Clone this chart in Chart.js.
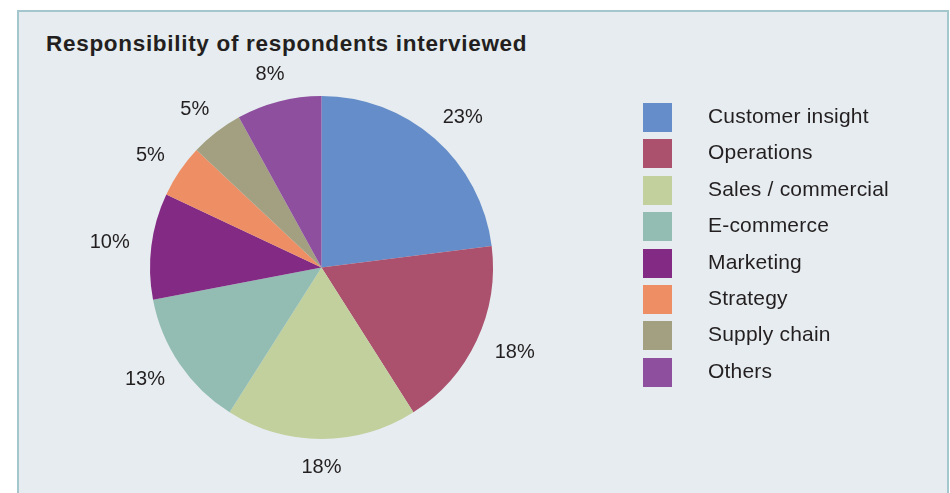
<!DOCTYPE html>
<html>
<head>
<meta charset="utf-8">
<script src="https://cdn.jsdelivr.net/npm/chart.js@4"></script>
<style>
  html, body { margin: 0; padding: 0; background: #ffffff; }
  body { width: 950px; height: 493px; position: relative; overflow: hidden;
         font-family: "Liberation Sans", Arial, sans-serif; color: #231f20; }
  #panel { position: absolute; left: 17px; top: 10px; width: 928px; height: 490px;
           background: #e6ecef; border: 2px solid #a3c7cc; }
  #title { position: absolute; left: 46px; top: 31px; font-size: 22.5px; font-weight: bold;
           letter-spacing: 0.7px; color: #231f20; white-space: nowrap; }
  #chart { position: absolute; left: 0; top: 0; }
  #legend { position: absolute; left: 643px; top: 103px; }
  .row { position: relative; height: 36.4px; }
  .box { position: absolute; left: 0; top: 0; width: 29px; height: 29px; }
  .txt { position: absolute; left: 65px; top: 1px; font-size: 21px; letter-spacing: 0.2px;
         white-space: nowrap; }
</style>
</head>
<body>
<div id="panel"></div>
<div id="title">Responsibility of respondents interviewed</div>
<canvas id="chart" width="950" height="493"></canvas>
<div id="legend"></div>
<script>
// categories and shares (percent), clockwise from 12 o'clock
const categories = ['Customer insight', 'Operations', 'Sales / commercial', 'E-commerce',
                    'Marketing', 'Strategy', 'Supply chain', 'Others'];
const shares = [23, 18, 18, 13, 10, 5, 5, 8];
const colors = ['#648dc9', '#ab516d', '#c1d09d', '#93bdb3', '#832a84', '#ed8e64', '#a3a081', '#8d4f9e'];

// percentage labels outside each slice
const outsideLabels = {
    id: 'outsideLabels',
    afterDatasetsDraw(chart) {
        const ctx = chart.ctx;
        const meta = chart.getDatasetMeta(0);
        ctx.save();
        ctx.font = '20px "Liberation Sans", Arial, sans-serif';
        ctx.fillStyle = '#231f20';
        ctx.textAlign = 'center';
        ctx.textBaseline = 'middle';
        meta.data.forEach((arc, i) => {
            const mid = (arc.startAngle + arc.endAngle) / 2;
            const dx = Math.cos(mid), dy = Math.sin(mid);
            const r = arc.outerRadius + 18;
            const text = shares[i] + '%';
            const hw = ctx.measureText(text).width / 2, hh = 10;
            ctx.fillText(text, arc.x + dx * r + dx * hw * 1.2, arc.y + dy * r + dy * hh);
        });
        ctx.restore();
    }
};

new Chart(document.getElementById('chart'), {
    type: 'pie',
    data: {
        labels: categories,
        datasets: [{
            data: shares,
            backgroundColor: colors,
            borderWidth: 0,
            hoverBorderWidth: 0,
            hoverOffset: 0
        }]
    },
    options: {
        responsive: false,
        animation: false,
        layout: { padding: { left: 150, top: 96, right: 457, bottom: 54 } },
        plugins: {
            legend: { display: false },
            tooltip: { enabled: false }
        }
    },
    plugins: [outsideLabels]
});

// legend
const legend = document.getElementById('legend');
categories.forEach((c, i) => {
    const row = document.createElement('div');
    row.className = 'row';
    row.innerHTML = '<div class="box" style="background:' + colors[i] + '"></div>' +
                    '<div class="txt">' + c + '</div>';
    legend.appendChild(row);
});
</script>
</body>
</html>
